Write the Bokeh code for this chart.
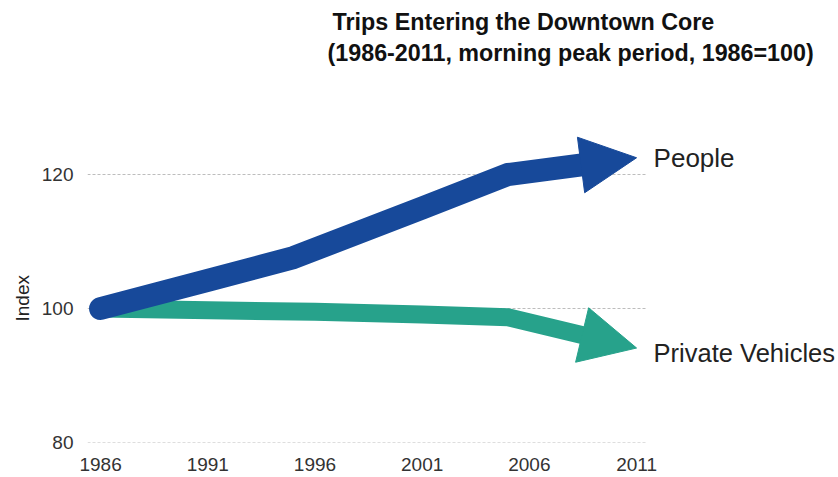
import math
from bokeh.plotting import figure
from bokeh.models import Range1d, Arrow, NormalHead, Label, Title, FixedTicker
from bokeh.embed import file_html
from bokeh.resources import INLINE

# ---- data ----
years_people = [1986, 1991, 1995, 2001, 2005, 2011]
people = [100, 104.2, 107.6, 115.0, 120.0, 122.5]
years_vehicles = [1986, 1996, 2001, 2005, 2011]
vehicles = [100, 99.5, 99.1, 98.7, 94.1]
x_ticks = [1986, 1991, 1996, 2001, 2006, 2011]
y_ticks = [80, 100, 120]
series_names = ["People", "Private Vehicles"]
title_1 = "Trips Entering the Downtown Core"
title_2 = "(1986-2011, morning peak period, 1986=100)"
y_title = "Index"

# ---- layout ----
W, H = 838, 477
ML, MB, MT = 87, 35, 68
PX_YEAR, PX_UNIT = 21.44, 6.7
X0 = 1985.39
X1 = X0 + (W - ML) / PX_YEAR
GX1 = 2011.42          # right end of the grid lines
Y0 = 80
Y1 = Y0 + (H - MT - MB) / PX_UNIT
FONT = "Liberation Sans"
BLUE = "#17499A"
GREEN = "#27A28B"

p = figure(width=W, height=H, output_backend="svg", toolbar_location=None,
           title=None, x_range=Range1d(X0, X1), y_range=Range1d(Y0, Y1),
           min_border_left=ML, min_border_right=0, min_border_top=MT,
           min_border_bottom=MB)
p.outline_line_color = None
p.background_fill_color = "white"
p.border_fill_color = "white"

t2 = Title(text=title_2, align="left", offset=240, text_font_size="23.3px",
           text_font_style="bold", text_font=FONT, text_color="#111111", standoff=6)
t1 = Title(text=title_1, align="left", offset=245, text_font_size="23.3px",
           text_font_style="bold", text_font=FONT, text_color="#111111", standoff=0)
p.add_layout(t2, "above")
p.add_layout(t1, "above")

for ax in (p.xaxis[0], p.yaxis[0]):
    ax.axis_line_color = None
    ax.major_tick_line_color = None
    ax.minor_tick_line_color = None
    ax.major_label_text_font = FONT
    ax.major_label_text_font_size = "19px"
    ax.major_label_text_color = "#333333"
p.xaxis.ticker = FixedTicker(ticks=x_ticks)
p.yaxis.ticker = FixedTicker(ticks=y_ticks)
p.xaxis.major_label_standoff = 9
p.yaxis.major_label_standoff = 8

ti = Title(text=y_title, align="left", offset=121, text_font_size="19px",
           text_font_style="normal", text_font=FONT, text_color="#222222", standoff=12)
p.add_layout(ti, "left")

p.xgrid.visible = False
p.ygrid.visible = False
p.segment(x0=[X0] * len(y_ticks), y0=y_ticks, x1=[GX1] * len(y_ticks), y1=y_ticks,
          line_color="#bdbdbd", line_dash="3 2", line_width=1)


def body(xs, ys, back_px):
    dx = (xs[-1] - xs[-2]) * PX_YEAR
    dy = (ys[-1] - ys[-2]) * PX_UNIT
    f = back_px / math.hypot(dx, dy)
    bx = xs[-1] - (xs[-1] - xs[-2]) * f
    by = ys[-1] - (ys[-1] - ys[-2]) * f
    return list(xs[:-1]) + [bx], list(ys[:-1]) + [by]


HEAD = 56
gx, gy = body(years_vehicles, vehicles, 38)
p.line(gx, gy, line_color=GREEN, line_width=18, line_join="round", line_cap="butt")
p.add_layout(Arrow(end=NormalHead(size=HEAD, fill_color=GREEN, line_color=GREEN, line_width=1),
                   x_start=gx[-1], y_start=gy[-1],
                   x_end=years_vehicles[-1], y_end=vehicles[-1], line_alpha=0))

bx, by = body(years_people, people, 38)
p.line(bx, by, line_color=BLUE, line_width=23, line_join="round", line_cap="round")
p.add_layout(Arrow(end=NormalHead(size=HEAD, fill_color=BLUE, line_color=BLUE, line_width=1),
                   x_start=bx[-1], y_start=by[-1],
                   x_end=years_people[-1], y_end=people[-1], line_alpha=0))

p.add_layout(Label(x=years_people[-1], y=people[-1], text=series_names[0],
                   x_offset=17, y_offset=0, text_baseline="middle",
                   text_font=FONT, text_font_size="26px", text_color="#222222"))
p.add_layout(Label(x=years_vehicles[-1], y=vehicles[-1], text=series_names[1],
                   x_offset=17, y_offset=-5, text_baseline="middle",
                   text_font=FONT, text_font_size="25.5px", text_color="#222222"))

open("out.html", "w").write(file_html(p, INLINE))
